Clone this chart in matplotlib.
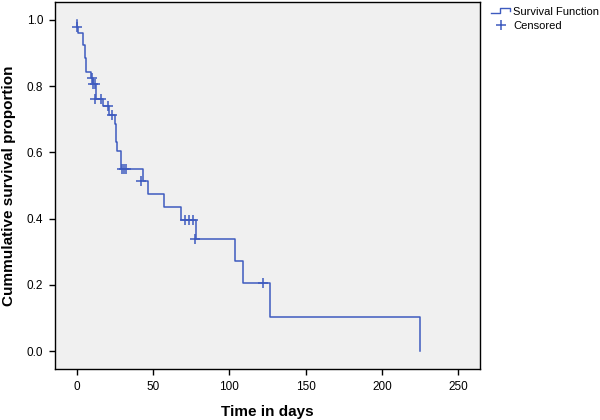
import matplotlib
matplotlib.use('Agg')
import matplotlib.pyplot as plt
from matplotlib.lines import Line2D
from matplotlib.legend_handler import HandlerBase

# Kaplan-Meier steps: time of drop and survival after it
step_times = [0.0, 0.5, 1.0, 3.9, 5.4, 5.9, 9.4, 11.0, 12.7, 17.4, 21.4, 24.9,
              25.8, 26.7, 28.9, 43.3, 47.0, 57.2, 68.1, 78.0, 104.0, 109.0,
              126.9, 225.0]
step_surv = [1.0, 0.98, 0.96, 0.924, 0.885, 0.844, 0.824, 0.806, 0.761, 0.739,
             0.714, 0.686, 0.632, 0.603, 0.550, 0.515, 0.475, 0.436, 0.397,
             0.339, 0.272, 0.205, 0.102, 0.0]

# censored observations
cens_times = [0.2, 9.8, 10.9, 12.3, 12.2, 15.7, 20.7, 23.3, 29.5, 31.0, 32.6,
              42.3, 71.0, 73.8, 76.4, 77.5, 121.9]
cens_surv = [0.98, 0.824, 0.806, 0.806, 0.761, 0.761, 0.739, 0.714, 0.550,
             0.550, 0.550, 0.515, 0.397, 0.397, 0.397, 0.339, 0.205]

x_ticks = [0, 50, 100, 150, 200, 250]
y_ticks = [0.0, 0.2, 0.4, 0.6, 0.8, 1.0]

line_col = '#3e5bbf'
plt.rcParams['font.family'] = ['Liberation Sans', 'DejaVu Sans']


class StepHandler(HandlerBase):
    # little step glyph like the SPSS legend
    def create_artists(self, legend, orig_handle, xdescent, ydescent,
                       width, height, fontsize, trans):
        y0 = height * 0.2 - ydescent
        y1 = height * 0.8 - ydescent
        xs = [-xdescent, -xdescent + width * 0.45, -xdescent + width * 0.45,
              -xdescent + width * 0.9, -xdescent + width * 0.9]
        ys = [y0, y0, y1, y1, y0 + (y1 - y0) * 0.5]
        ln = Line2D(xs, ys, color=line_col, lw=1.0, transform=trans)
        return [ln]


fig = plt.figure(figsize=(6, 4.2), dpi=100)
ax = fig.add_axes([55 / 600, 1 - 369 / 420, 425 / 600, 367 / 420])
ax.set_facecolor('#f0f0f0')

surv_line, = ax.step(step_times, step_surv, where='post', color=line_col, lw=1.1)
cens_mark, = ax.plot(cens_times, cens_surv, ls='none', marker='+', ms=6.5,
                     mew=1.1, color=line_col)

ax.set_xlim(-14.2, 264.3)
ax.set_ylim(-0.054, 1.054)
ax.set_xticks(x_ticks)
ax.set_yticks(y_ticks)
ax.set_xticklabels([str(v) for v in x_ticks])
ax.set_yticklabels([f'{v:.1f}' for v in y_ticks])
ax.tick_params(direction='out', length=4.5, width=1, labelsize=8.5, pad=4,
               color='black')
for sp in ax.spines.values():
    sp.set_color('black')
    sp.set_linewidth(1)

ax.set_xlabel('Time in days', fontsize=11, fontweight='bold', labelpad=9)
ax.set_ylabel('Cummulative survival proportion', fontsize=11,
              fontweight='bold', labelpad=8)

fig.legend([surv_line, cens_mark], ['Survival Function', 'Censored'],
           loc='upper left', bbox_to_anchor=(484 / 600, 1.0), frameon=False,
           fontsize=8, borderpad=0.1, handlelength=1.9, handletextpad=0.1,
           labelspacing=0.35, handler_map={surv_line: StepHandler()})

fig.savefig('out.png', dpi=100)
